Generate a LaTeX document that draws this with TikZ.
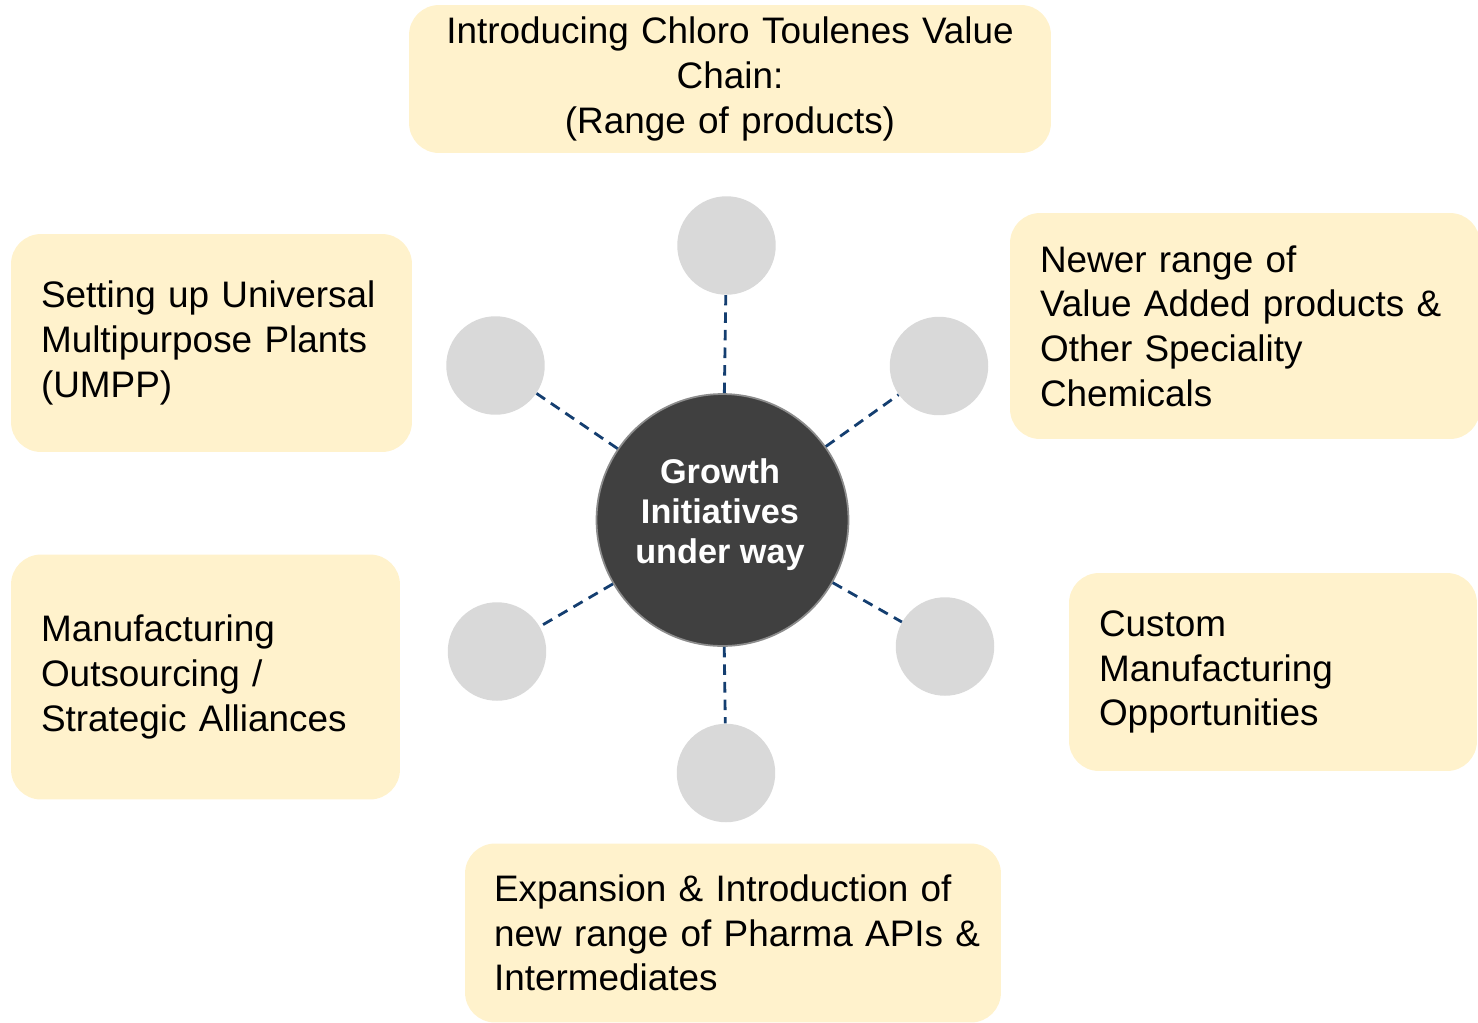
\documentclass[tikz,border=0pt]{standalone}
\usepackage{fontspec}
\setmainfont{Liberation Sans}
\usetikzlibrary{positioning}
\definecolor{ideafill}{HTML}{FFF2CC}
\definecolor{dotgrey}{HTML}{D9D9D9}
\definecolor{hubgrey}{HTML}{404040}
\definecolor{hubrim}{HTML}{8C8C8C}
\definecolor{spokeblue}{RGB}{20,62,112}
\tikzset{
  idea/.style={fill=ideafill,rounded corners=0.6cm,inner xsep=0.6cm,inner ysep=0pt,
    align=left,font=\fontsize{21}{25.4}\selectfont},
  dot/.style={circle,fill=dotgrey,minimum size=1.97cm,inner sep=0pt},
  spoke/.style={draw=spokeblue,line width=1.6pt,dash pattern=on 6pt off 4pt}
}

\begin{document}
\begin{tikzpicture}[x=0.02cm,y=-0.02cm]
    \useasboundingbox (0,0) rectangle (1478,1022);

    % the six initiatives
    \node[idea,align=center,text width=11.64cm,minimum height=2.96cm] (chain) at (730,79)
        {Introducing Chloro Toulenes Value\\Chain:\\(Range of products)};
    \node[idea,text width=6.82cm,minimum height=4.36cm] (umpp) at (211.5,343)
        {Setting up Universal\\Multipurpose Plants\\(UMPP)};
    \node[idea,text width=8.2cm,minimum height=4.52cm] (newer) at (1245,326)
        {Newer range of\\Value Added products \&\\Other Speciality\\Chemicals};
    \node[idea,text width=6.58cm,minimum height=4.9cm] (alliance) at (205.5,677)
        {Manufacturing\\Outsourcing /\\Strategic Alliances};
    \node[idea,text width=6.96cm,minimum height=3.96cm] (custom) at (1273,672)
        {Custom\\Manufacturing\\Opportunities};
    \node[idea,inner xsep=0.58cm,text width=9.56cm,minimum height=3.58cm] (pharma) at (733,933)
        {Expansion \& Introduction of\\\mbox{new range of Pharma APIs \&}\\Intermediates};

    % hub and spokes
    \node[circle,fill=hubgrey,draw=hubrim,line width=1pt,minimum size=5.04cm] (hub) at (722.5,520) {};
    \node[text=white,align=center,font=\bfseries\fontsize{19.5}{22.8}\selectfont] (hubtext) at (720,515)
        {Growth\\Initiatives\\under way};

    \foreach \n/\x/\y in {top/726.5/245.5,ur/939/366,lr/945/646.5,bot/726/773,ll/497/651.5,ul/495.5/365.5} {
        \node[dot] (dot-\n) at (\x,\y) {};
        \draw[spoke] (hub) -- (dot-\n);
    }
\end{tikzpicture}
\end{document}
